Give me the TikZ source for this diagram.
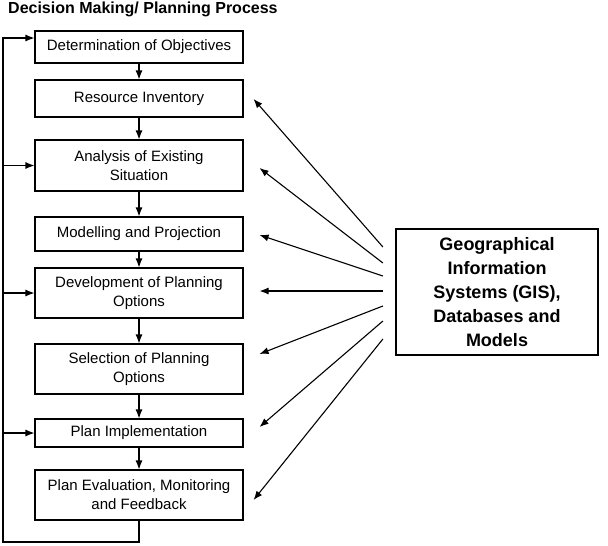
\documentclass[tikz,border=0pt]{standalone}
\usepackage{fontspec}
\setmainfont{Liberation Sans}
\usetikzlibrary{arrows.meta}

\begin{document}
\begin{tikzpicture}[x=1pt,y=-1pt,
  paso/.style={draw, line width=1.1pt, minimum width=208pt, inner sep=0pt,
    align=center, font=\fontsize{15}{19}\selectfont},
  flecha/.style={line width=1.1pt, -{Latex[length=9pt,width=7pt]}}]

\useasboundingbox (0,0) rectangle (608,546);

% Titulo
\node[anchor=base west, inner sep=0pt, font=\bfseries\fontsize{16}{19}\selectfont]
  (titulo) at (8,13) {Decision Making/ Planning Process};

% Pasos del proceso
\node[paso, minimum height=32pt] (obj)  at (139,47)    {Determination of Objectives};
\node[paso, minimum height=37pt] (inv)  at (139,98.5)  {Resource Inventory};
\node[paso, minimum height=51pt] (ana)  at (139,165.5) {Analysis of Existing\\Situation};
\node[paso, minimum height=34pt] (mod)  at (139,234)   {Modelling and Projection};
\node[paso, minimum height=50pt] (des)  at (139,293)   {Development of Planning\\Options};
\node[paso, minimum height=50pt] (sel)  at (139,369)   {Selection of Planning\\Options};
\node[paso, minimum height=28pt] (impl) at (139,433)   {Plan Implementation};
\node[paso, minimum height=50pt] (eval) at (139,495)   {Plan Evaluation, Monitoring\\and Feedback};

% Flechas entre pasos
\foreach \a/\b in {obj/inv, inv/ana, ana/mod, mod/des, des/sel, sel/impl, impl/eval}
  \draw[flecha] (\a) -- (\b);

% Lazo de retroalimentacion
\coordinate (retorno) at (3,542);
\draw[flecha] (eval.south) |- (retorno) |- ([yshift=9pt]obj.west);
\draw[flecha] (retorno |- ana.west) -- (ana.west);
\draw[flecha] (retorno |- des.west) -- (des.west);
\draw[flecha] (retorno |- impl.west) -- (impl.west);

% Caja SIG
\node[draw, line width=2.2pt, minimum width=202pt, minimum height=126pt, align=center,
  font=\bfseries\fontsize{18}{24}\selectfont]
  (sig) at (497,292) {Geographical\\Information\\Systems (GIS),\\Databases and\\Models};

% Flechas desde el SIG
\foreach \n/\sy/\dx/\dy in {inv/45/10/-0.5, ana/29/16/-2.5, mod/16/16/-1, des/1/16/2,
                            sel/-14/16/15, impl/-29/16/6, eval/-47/10/-5}
  \draw[flecha] ([xshift=-12pt,yshift=\sy pt]sig.west) -- ([xshift=\dx pt,yshift=\dy pt]\n.east);

\end{tikzpicture}
\end{document}
